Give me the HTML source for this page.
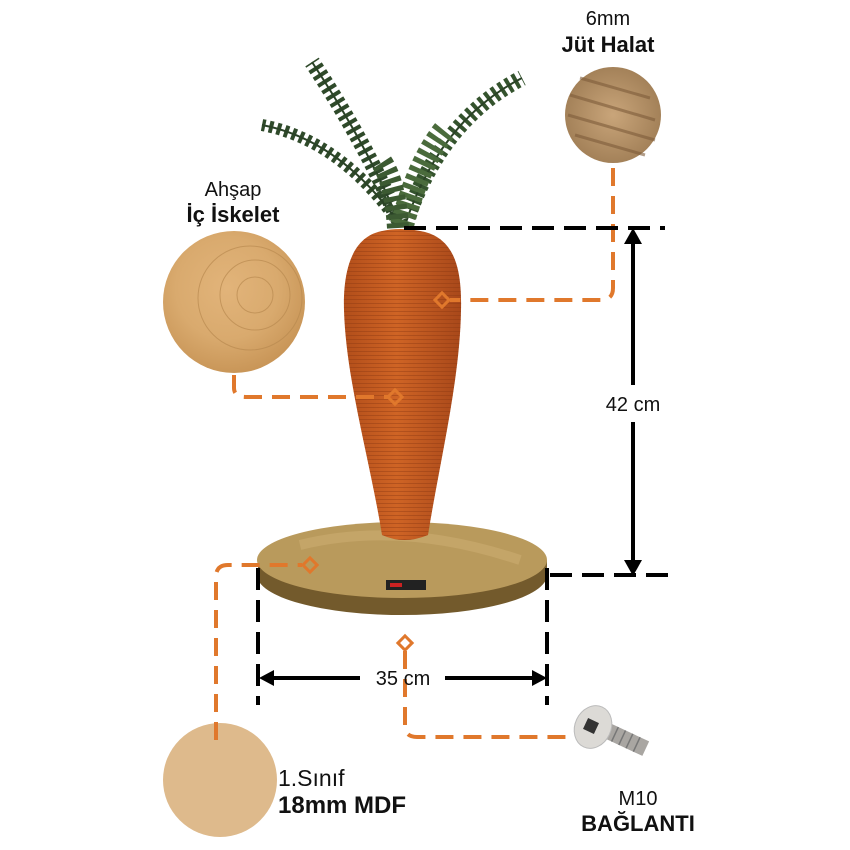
<!DOCTYPE html>
<html><head><meta charset="utf-8"><style>
html,body{margin:0;padding:0;background:#fff;}
svg{display:block;}
text{font-family:"Liberation Sans","DejaVu Sans",sans-serif;fill:#111;}
</style></head><body>
<svg width="850" height="850" viewBox="0 0 850 850" xmlns="http://www.w3.org/2000/svg">
<defs>
<radialGradient id="wood" cx="0.45" cy="0.4" r="0.6"><stop offset="0" stop-color="#e2b47a"/><stop offset="0.6" stop-color="#d9aa6e"/><stop offset="1" stop-color="#c99658"/></radialGradient>
<radialGradient id="rope" cx="0.5" cy="0.5" r="0.6"><stop offset="0" stop-color="#c9a57a"/><stop offset="1" stop-color="#9c7a52"/></radialGradient>
<linearGradient id="carrot" x1="0" x2="1"><stop offset="0" stop-color="#b24e1a"/><stop offset="0.45" stop-color="#cf6425"/><stop offset="1" stop-color="#a8481a"/></linearGradient>
<pattern id="rings" width="6" height="4" patternUnits="userSpaceOnUse"><line x1="0" y1="3.5" x2="6" y2="3.5" stroke="#8a3610" stroke-width="0.8" opacity="0.5"/></pattern>
</defs>

<!-- fern fronds -->
<g fill="none" stroke-linecap="butt">
<path d="M400 225 Q370 150 312 62" stroke="#2f4a2a" stroke-width="16" stroke-dasharray="4 4"/>
<path d="M400 225 Q370 150 312 62" stroke="#2a4226" stroke-width="2"/>
<path d="M398 222 Q340 140 262 125" stroke="#2f4a2a" stroke-width="12" stroke-dasharray="4 4"/>
<path d="M398 222 Q340 140 262 125" stroke="#2a4226" stroke-width="2"/>
<path d="M405 225 Q440 120 522 78" stroke="#34532d" stroke-width="16" stroke-dasharray="4 4"/>
<path d="M405 225 Q440 120 522 78" stroke="#2a4226" stroke-width="2"/>
<path d="M402 225 Q420 160 445 130" stroke="#4a6b3c" stroke-width="24" stroke-dasharray="5 4"/>
<path d="M398 228 Q395 180 380 160" stroke="#3c5a32" stroke-width="22" stroke-dasharray="5 4"/>
</g>

<!-- base -->
<path d="M258 560 L258 575 A145 40 0 0 0 547 575 L547 560 Z" fill="#7a6232"/>
<ellipse cx="402" cy="575" rx="145" ry="40" fill="#735a2c"/>
<ellipse cx="402" cy="560" rx="145" ry="38" fill="#b99a5c"/>
<path d="M300 545 Q400 520 520 560" stroke="#cfb073" stroke-width="10" fill="none" opacity="0.5"/>
<rect x="386" y="580" width="40" height="10" fill="#222"/>
<rect x="390" y="583" width="12" height="4" fill="#c22"/>

<!-- carrot -->
<path d="M378 232 C350 240 343 275 344 310 C346 380 370 460 382 535 Q404 545 428 535 C440 460 460 380 461 310 C462 270 455 240 425 232 Q400 226 378 232 Z" fill="url(#carrot)"/>
<path d="M378 232 C350 240 343 275 344 310 C346 380 370 460 382 535 Q404 545 428 535 C440 460 460 380 461 310 C462 270 455 240 425 232 Q400 226 378 232 Z" fill="url(#rings)"/>

<!-- circles -->
<circle cx="234" cy="302" r="71" fill="url(#wood)"/>
<g stroke="#b98a50" fill="none" stroke-width="1" opacity="0.7"><circle cx="255" cy="295" r="18"/><circle cx="255" cy="295" r="35"/><circle cx="250" cy="298" r="52"/></g>
<circle cx="613" cy="115" r="48" fill="url(#rope)"/>
<g stroke="#7e5c3a" stroke-width="3" opacity="0.6"><line x1="570" y1="95" x2="655" y2="120"/><line x1="568" y1="115" x2="655" y2="140"/><line x1="575" y1="135" x2="645" y2="155"/><line x1="580" y1="78" x2="650" y2="98"/></g>
<circle cx="220" cy="780" r="57" fill="#deba8c"/>

<!-- bolt -->
<g transform="translate(595,725) rotate(25)">
<rect x="6" y="-8" width="50" height="16" fill="#a9a6a2"/>
<g stroke="#777" stroke-width="1.5"><line x1="14" y1="-8" x2="14" y2="8"/><line x1="22" y1="-8" x2="22" y2="8"/><line x1="30" y1="-8" x2="30" y2="8"/><line x1="38" y1="-8" x2="38" y2="8"/><line x1="46" y1="-8" x2="46" y2="8"/></g>
</g>
<ellipse cx="593" cy="727" rx="18" ry="22" transform="rotate(25 593 727)" fill="#dcdad6" stroke="#bbb"/>
<rect x="585" y="720" width="12" height="12" fill="#333" transform="rotate(25 591 726)"/>

<!-- orange connectors -->
<g fill="none" stroke="#e0782c" stroke-width="4" stroke-dasharray="18 10">
<path d="M613 168 L613 288 Q613 300 601 300 L450 300"/>
<path d="M234 375 L234 388 Q234 397 246 397 L388 397"/>
<path d="M216 740 L216 577 Q216 565 228 565 L302 565"/>
<path d="M405 651 L405 726 Q405 737 417 737 L575 737"/>
</g>
<g fill="none" stroke="#e0782c" stroke-width="3">
<rect x="437" y="295" width="10" height="10" transform="rotate(45 442 300)"/>
<rect x="390" y="392" width="10" height="10" transform="rotate(45 395 397)"/>
<rect x="305" y="560" width="10" height="10" transform="rotate(45 310 565)"/>
<rect x="400" y="638" width="10" height="10" transform="rotate(45 405 643)"/>
</g>

<!-- black dims -->
<g stroke="#000" stroke-width="4" fill="none" stroke-dasharray="22 10">
<line x1="404" y1="228" x2="665" y2="228"/>
<line x1="550" y1="575" x2="670" y2="575"/>
<line x1="258" y1="568" x2="258" y2="705"/>
<line x1="547" y1="568" x2="547" y2="705"/>
</g>
<g stroke="#000" stroke-width="4">
<line x1="633" y1="240" x2="633" y2="385"/>
<line x1="633" y1="422" x2="633" y2="565"/>
<line x1="270" y1="678" x2="360" y2="678"/>
<line x1="445" y1="678" x2="537" y2="678"/>
</g>
<polygon points="633,228 624,244 642,244" fill="#000"/>
<polygon points="633,576 624,560 642,560" fill="#000"/>
<polygon points="259,678 274,670 274,686" fill="#000"/>
<polygon points="547,678 532,670 532,686" fill="#000"/>

<!-- labels -->
<text x="633" y="411" font-size="20" text-anchor="middle">42 cm</text>
<text x="403" y="685" font-size="20" text-anchor="middle">35 cm</text>
<text x="608" y="25" font-size="20" text-anchor="middle">6mm</text>
<text x="608" y="52" font-size="22" font-weight="bold" text-anchor="middle">Jüt Halat</text>
<text x="233" y="196" font-size="20" text-anchor="middle">Ahşap</text>
<text x="233" y="222" font-size="22" font-weight="bold" text-anchor="middle">İç İskelet</text>
<text x="278" y="786" font-size="23">1.Sınıf</text>
<text x="278" y="813" font-size="24" font-weight="bold">18mm MDF</text>
<text x="638" y="805" font-size="20" text-anchor="middle">M10</text>
<text x="638" y="831" font-size="22" font-weight="bold" text-anchor="middle">BAĞLANTI</text>
</svg>
</body></html>
